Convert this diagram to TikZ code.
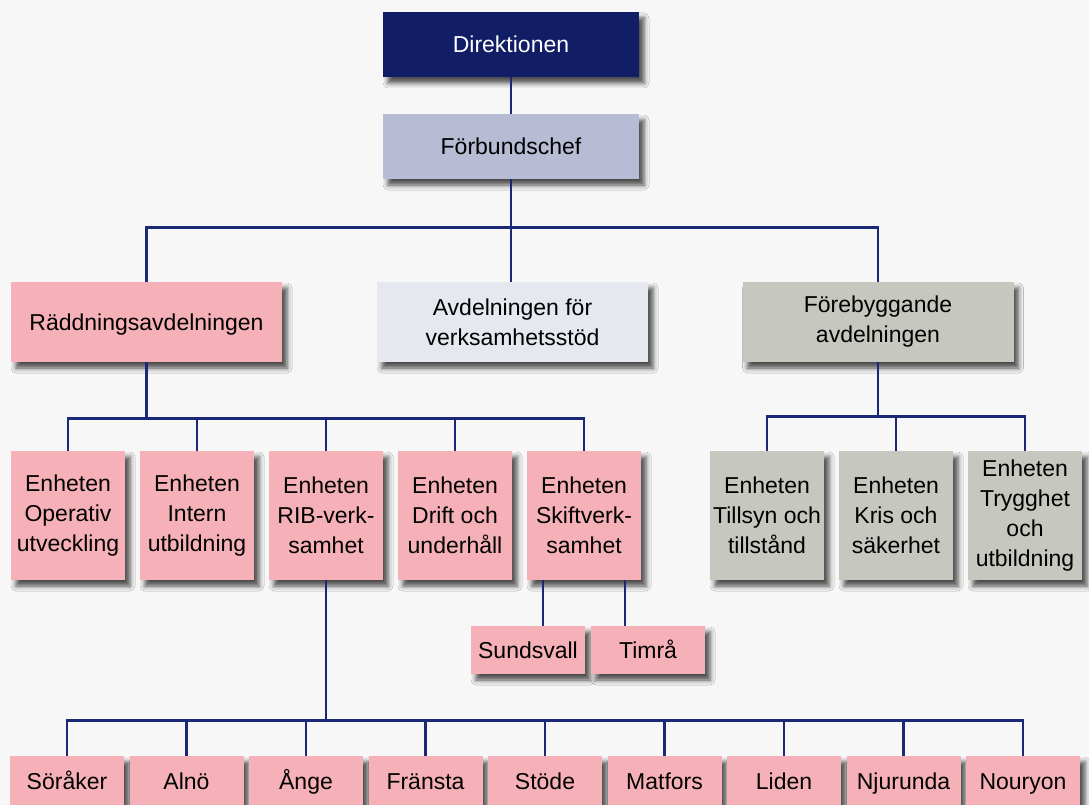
\documentclass[tikz,border=0pt]{standalone}
\usepackage{fontspec}
\setmainfont{Liberation Sans}
\usetikzlibrary{shadows.blur,calc}
\definecolor{bg}{RGB}{247,247,247}
\definecolor{navy}{RGB}{17,30,102}
\definecolor{lineblue}{RGB}{27,40,120}
\definecolor{lav}{RGB}{183,187,211}
\definecolor{pinkbox}{RGB}{246,177,184}
\definecolor{pale}{RGB}{230,232,240}
\definecolor{greybox}{RGB}{198,200,191}
\begin{document}
\begin{tikzpicture}[x=1pt,y=-1pt,
  box/.style={rectangle, inner sep=0pt, align=center,
    font=\fontsize{23}{30}\selectfont,
    blur shadow={shadow xshift=5pt, shadow yshift=-6pt, shadow blur radius=5pt, shadow opacity=70}},
  oneline/.style={text height=16.5pt, text depth=0pt},
  topbox/.style={box, oneline, minimum width=256pt, minimum height=65pt},
  depbox/.style={box, minimum width=271pt, minimum height=80pt},
  unitbox/.style={box, minimum width=114pt, minimum height=129pt},
  smallbox/.style={box, oneline, fill=pinkbox, minimum width=114pt, minimum height=48pt},
  stnbox/.style={box, oneline, fill=pinkbox, minimum width=114pt, minimum height=50pt},
  conn/.style={draw=lineblue, line width=2.8pt}]
\fill[bg] (0,0) rectangle (1089,805);
\useasboundingbox (0,0) rectangle (1089,805);

\node[topbox, fill=navy, text=white] (dir) at (511,44.5) {Direktionen};
\node[topbox, fill=lav] (fc) at (511,146.5) {Förbundschef};

\node[depbox, oneline, fill=pinkbox] (rad) at (146.5,322) {Räddningsavdelningen};
\node[depbox, fill=pale] (avd) at (512.5,322) {Avdelningen för\\verksamhetsstöd};
\node[depbox, fill=greybox] (fore) at (878,322) {Förebyggande\\avdelningen};

\node[unitbox, fill=pinkbox] (op) at (68,515.5) {Enheten\\Operativ\\utveckling};
\node[unitbox, fill=pinkbox] (int) at (197,515.5) {Enheten\\Intern\\utbildning};
\node[unitbox, fill=pinkbox] (rib) at (326,515.5) {Enheten\\RIB-verk-\\samhet};
\node[unitbox, fill=pinkbox] (dri) at (455,515.5) {Enheten\\Drift och\\underhåll};
\node[unitbox, fill=pinkbox] (ski) at (584,515.5) {Enheten\\Skiftverk-\\samhet};

\node[unitbox, fill=greybox] (til) at (767,515.5) {Enheten\\Tillsyn och\\tillstånd};
\node[unitbox, fill=greybox] (kri) at (896,515.5) {Enheten\\Kris och\\säkerhet};
\node[unitbox, fill=greybox] (try) at (1025,515.5) {Enheten\\Trygghet\\och\\utbildning};

\node[smallbox] (sun) at (528,650) {Sundsvall};
\node[smallbox] (tim) at (648,650) {Timrå};

\node[stnbox] (b1) at (67,781) {Söråker};
\node[stnbox] (b2) at (186.5,781) {Alnö};
\node[stnbox] (b3) at (306,781) {Ånge};
\node[stnbox] (b4) at (425.5,781) {Fränsta};
\node[stnbox] (b5) at (545,781) {Stöde};
\node[stnbox] (b6) at (664.5,781) {Matfors};
\node[stnbox] (b7) at (784,781) {Liden};
\node[stnbox] (b8) at (903.5,781) {Njurunda};
\node[stnbox] (b9) at (1023,781) {Nouryon};

% connectors
\draw[conn] (dir.south) -- (fc.north);
\draw[conn] (fc.south) -- ++(0,48) coordinate (j1);
\draw[conn] (rad.north) |- (j1) -| (fore.north);
\draw[conn] (j1) -- (avd.north -| j1);

\draw[conn] (rad.south) -- ++(0,56) coordinate (j2);
\draw[conn] (op.north) |- (j2) -| (ski.north);
\draw[conn] (int.north) -- (int.north |- j2);
\draw[conn] (rib.north) -- (rib.north |- j2);
\draw[conn] (dri.north) -- (dri.north |- j2);

\draw[conn] (fore.south) -- ++(0,54) coordinate (j3);
\draw[conn] (til.north) |- (j3) -| (try.north);
\draw[conn] (kri.north) -- (kri.north |- j3);

\coordinate (s1) at ($(ski.south)+(-41,0)$);
\coordinate (s2) at ($(ski.south)+(41,0)$);
\draw[conn] (s1) -- (s1 |- sun.north);
\draw[conn] (s2) -- (s2 |- tim.north);

\draw[conn] (rib.south) -- ++(0,140) coordinate (j4);
\draw[conn] (b1.north) |- (j4) -| (b9.north);
\foreach \b in {b2,b3,b4,b5,b6,b7,b8}
  \draw[conn] (\b.north) -- (\b.north |- j4);
\end{tikzpicture}
\end{document}
